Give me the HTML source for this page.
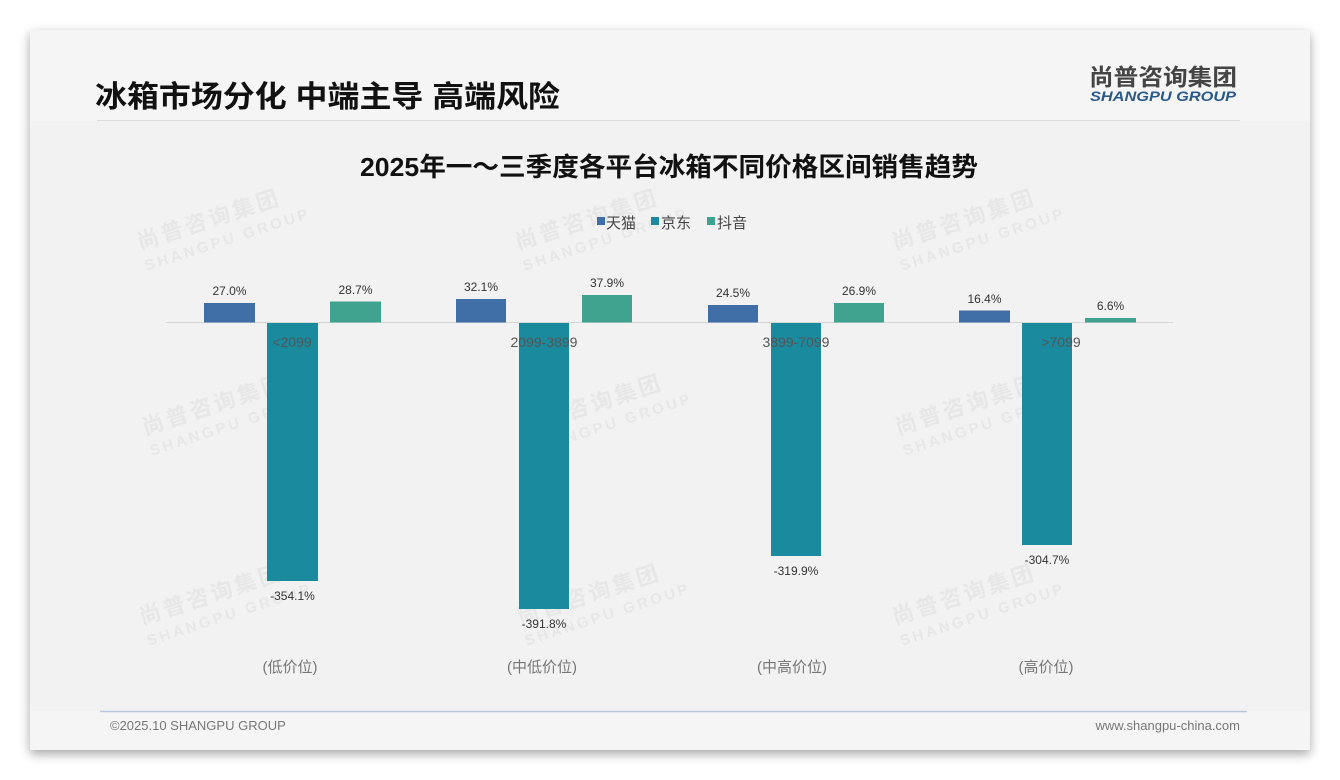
<!DOCTYPE html>
<html><head><meta charset="utf-8"><style>
body{margin:0;width:1340px;height:780px;background:#fff;position:relative;overflow:hidden;font-family:"Liberation Sans","Noto Sans CJK SC",sans-serif}
.card{position:absolute;left:30px;top:30px;width:1280px;height:720px;background:#f5f5f5;box-shadow:0 4px 10px rgba(0,0,0,.35)}
</style></head><body>
<div class="card"></div>
<svg width="1340" height="780" style="position:absolute;left:0;top:0" font-family="Liberation Sans, Noto Sans CJK SC, sans-serif">
<rect x="30" y="121" width="1280" height="590" fill="#f2f2f2"/>
<text x="95" y="107" font-size="30" font-weight="bold" fill="#111" textLength="465" lengthAdjust="spacingAndGlyphs">冰箱市场分化 中端主导 高端风险</text>
<text x="1163" y="85" font-size="23" font-weight="bold" fill="#444" text-anchor="middle" textLength="148" lengthAdjust="spacingAndGlyphs">尚普咨询集团</text>
<text x="1163" y="101" font-size="14" font-weight="bold" font-style="italic" fill="#2a5a8a" text-anchor="middle" textLength="146" lengthAdjust="spacingAndGlyphs">SHANGPU GROUP</text>
<line x1="97" y1="120.5" x2="1240" y2="120.5" stroke="#ddd"/>
<g fill="#e2e2e2" opacity="0.7" font-weight="bold">
<g transform="translate(140,250) rotate(-18)"><text font-size="22" letter-spacing="3">尚普咨询集团</text><text y="22" font-size="15" letter-spacing="3">SHANGPU GROUP</text></g>
<g transform="translate(518,250) rotate(-18)"><text font-size="22" letter-spacing="3">尚普咨询集团</text><text y="22" font-size="15" letter-spacing="3">SHANGPU GROUP</text></g>
<g transform="translate(895,250) rotate(-18)"><text font-size="22" letter-spacing="3">尚普咨询集团</text><text y="22" font-size="15" letter-spacing="3">SHANGPU GROUP</text></g>
<g transform="translate(145,435) rotate(-18)"><text font-size="22" letter-spacing="3">尚普咨询集团</text><text y="22" font-size="15" letter-spacing="3">SHANGPU GROUP</text></g>
<g transform="translate(522,435) rotate(-18)"><text font-size="22" letter-spacing="3">尚普咨询集团</text><text y="22" font-size="15" letter-spacing="3">SHANGPU GROUP</text></g>
<g transform="translate(898,435) rotate(-18)"><text font-size="22" letter-spacing="3">尚普咨询集团</text><text y="22" font-size="15" letter-spacing="3">SHANGPU GROUP</text></g>
<g transform="translate(142,625) rotate(-18)"><text font-size="22" letter-spacing="3">尚普咨询集团</text><text y="22" font-size="15" letter-spacing="3">SHANGPU GROUP</text></g>
<g transform="translate(520,625) rotate(-18)"><text font-size="22" letter-spacing="3">尚普咨询集团</text><text y="22" font-size="15" letter-spacing="3">SHANGPU GROUP</text></g>
<g transform="translate(895,625) rotate(-18)"><text font-size="22" letter-spacing="3">尚普咨询集团</text><text y="22" font-size="15" letter-spacing="3">SHANGPU GROUP</text></g>
</g>
<text x="669" y="176" font-size="26" font-weight="bold" fill="#111" text-anchor="middle" textLength="618" lengthAdjust="spacingAndGlyphs">2025年一～三季度各平台冰箱不同价格区间销售趋势</text>
<g font-size="15" fill="#444">
<rect x="597" y="217" width="8" height="8" fill="#3f6fa6"/><text x="606" y="228">天猫</text>
<rect x="651" y="217" width="8" height="8" fill="#1a8a9f"/><text x="661" y="228">京东</text>
<rect x="707" y="217" width="8" height="8" fill="#3fa38f"/><text x="717" y="228">抖音</text>
</g>
<line x1="166" y1="322.5" x2="1173" y2="322.5" stroke="#d6d6d6"/>
<g>
<rect x="204" y="303" width="51" height="19.5" fill="#3f6fa6"/><rect x="267" y="323" width="51" height="258" fill="#1a8a9f"/><rect x="330" y="301.5" width="51" height="21" fill="#3fa38f"/>
<rect x="456" y="299" width="50" height="23.5" fill="#3f6fa6"/><rect x="519" y="323" width="50" height="286" fill="#1a8a9f"/><rect x="582" y="295" width="50" height="27.5" fill="#3fa38f"/>
<rect x="708" y="305" width="50" height="17.5" fill="#3f6fa6"/><rect x="771" y="323" width="50" height="233" fill="#1a8a9f"/><rect x="834" y="303" width="50" height="19.5" fill="#3fa38f"/>
<rect x="959" y="310.5" width="51" height="12" fill="#3f6fa6"/><rect x="1022" y="323" width="50" height="222" fill="#1a8a9f"/><rect x="1085" y="318" width="51" height="4.5" fill="#3fa38f"/>
</g>
<g font-size="12" fill="#333" text-anchor="middle">
<text x="229.5" y="295">27.0%</text><text x="292.5" y="600">-354.1%</text><text x="355.5" y="294">28.7%</text>
<text x="481" y="291">32.1%</text><text x="544" y="628">-391.8%</text><text x="607" y="287">37.9%</text>
<text x="733" y="297">24.5%</text><text x="796" y="575">-319.9%</text><text x="859" y="295">26.9%</text>
<text x="984.5" y="303">16.4%</text><text x="1047" y="564">-304.7%</text><text x="1110.5" y="310">6.6%</text>
</g>
<g font-size="14" fill="#555" text-anchor="middle">
<text x="292" y="347">&lt;2099</text><text x="544" y="347">2099-3899</text><text x="796" y="347">3899-7099</text><text x="1061" y="347">&gt;7099</text>
</g>
<g font-size="15" fill="#777" text-anchor="middle">
<text x="290" y="672">(低价位)</text><text x="542" y="672">(中低价位)</text><text x="792" y="672">(中高价位)</text><text x="1046" y="672">(高价位)</text>
</g>
<line x1="100" y1="711.5" x2="1247" y2="711.5" stroke="#b9c6d6" stroke-width="1.5"/>
<text x="110" y="730" font-size="13" fill="#777">©2025.10 SHANGPU GROUP</text>
<text x="1240" y="730" font-size="13" fill="#777" text-anchor="end">www.shangpu-china.com</text>
</svg>
</body></html>
